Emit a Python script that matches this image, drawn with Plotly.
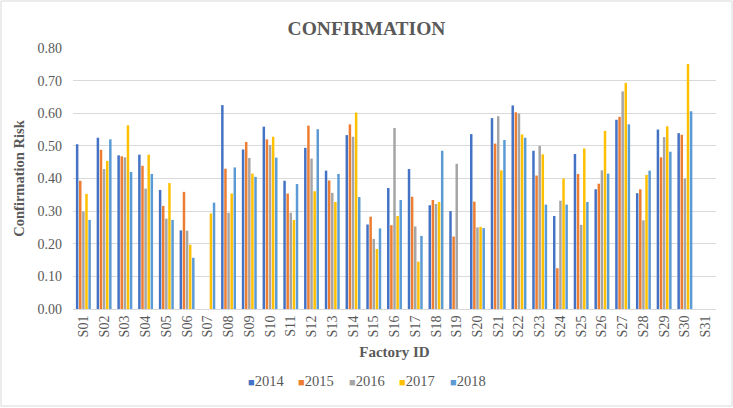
import plotly.graph_objects as go

factories = [f"S{i:02d}" for i in range(1, 32)]
years = ["2014", "2015", "2016", "2017", "2018"]
colors = ["#4472C4", "#ED7D31", "#A5A5A5", "#FFC000", "#5B9BD5"]

v2014 = [0.505, 0.525, 0.471, 0.473, 0.365, 0.241, None, 0.625, 0.489, 0.559,
         0.393, 0.494, 0.424, 0.533, 0.259, 0.371, 0.429, 0.318, 0.300, 0.536,
         0.585, 0.624, 0.485, 0.285, 0.475, 0.367, 0.580, 0.355, 0.550, 0.539, None]
v2015 = [0.393, 0.488, 0.468, 0.439, 0.316, 0.359, None, 0.430, 0.512, 0.520,
         0.354, 0.562, 0.394, 0.566, 0.283, 0.257, 0.344, 0.334, 0.222, 0.329,
         0.507, 0.603, 0.409, 0.125, 0.414, 0.384, 0.589, 0.367, 0.465, 0.534, None]
v2016 = [0.299, 0.429, 0.465, 0.369, 0.277, 0.240, None, 0.295, 0.463, 0.503,
         0.295, 0.461, 0.356, 0.528, 0.215, 0.555, 0.253, 0.322, 0.445, 0.250,
         0.591, 0.599, 0.500, 0.332, 0.258, 0.425, 0.667, 0.272, 0.527, 0.400, None]
v2017 = [0.353, 0.454, 0.563, 0.473, 0.386, 0.197, 0.293, 0.354, 0.415, 0.528,
         0.273, 0.361, 0.328, 0.602, 0.184, 0.285, 0.145, 0.328, None, 0.252,
         0.425, 0.535, 0.474, 0.400, 0.492, 0.546, 0.693, 0.411, 0.560, 0.751, None]
v2018 = [0.273, 0.520, 0.420, 0.414, 0.273, 0.157, 0.326, 0.434, 0.405, 0.464,
         0.383, 0.551, 0.414, 0.343, 0.247, 0.334, 0.224, 0.485, None, 0.248,
         0.518, 0.525, 0.320, 0.320, 0.328, 0.415, 0.566, 0.424, 0.482, 0.606, None]
series = [v2014, v2015, v2016, v2017, v2018]

font_fam = "Liberation Serif, Times New Roman, serif"
fig = go.Figure()
for y, vals, c in zip(years, series, colors):
    fig.add_trace(go.Bar(name=y, x=factories, y=vals, marker_color=c,
                         marker_line_width=0, showlegend=False))

W, H = 733, 408
ml, mr, mt, mb = 73, 17, 48, 99
pw, ph = W - ml - mr, H - mt - mb

# compact legend (Excel style): small coloured square + year label
legend_x0, legend_pitch, legend_y = 246, 50.4, 381
annotations = []
for i, (y, c) in enumerate(zip(years, colors)):
    annotations.append(dict(
        xref="paper", yref="paper",
        x=(legend_x0 + i * legend_pitch - ml) / pw, xanchor="left",
        y=(H - mb - legend_y) / ph, yanchor="middle",
        showarrow=False,
        text=f"<span style='color:{c};font-size:11px'>■</span>{y}",
        font=dict(size=14.5, color="#595959", family=font_fam)))

fig.update_layout(
    width=W, height=H,
    margin=dict(l=ml, r=mr, t=mt, b=mb),
    paper_bgcolor="white", plot_bgcolor="white",
    barmode="group", bargap=0.25, bargroupgap=0.2,
    font=dict(family=font_fam, color="#595959", size=14),
    title=dict(text="<b>CONFIRMATION</b>", x=0.5, xanchor="center",
               y=1 - 28 / H, yanchor="middle",
               font=dict(size=19.5, color="#595959", family=font_fam)),
    showlegend=False,
    annotations=annotations,
    xaxis=dict(tickangle=-90, showgrid=False, showline=True,
               linecolor="#D9D9D9", linewidth=1, ticks="", automargin=False,
               tickfont=dict(size=14, color="#595959"),
               title=dict(text="<b>Factory ID</b>", standoff=10,
                          font=dict(size=15, color="#595959"))),
    yaxis=dict(range=[0, 0.8], dtick=0.1, tickformat=".2f",
               showgrid=True, gridcolor="#D9D9D9", gridwidth=1,
               zeroline=False, ticks="", automargin=False,
               ticklabelstandoff=10,
               tickfont=dict(size=14, color="#595959"),
               title=dict(text="<b>Confirmation Risk</b>", standoff=9,
                          font=dict(size=14.5, color="#595959"))),
    shapes=[dict(type="rect", xref="paper", yref="paper",
                 x0=(1 - ml) / pw, x1=(W - 1 - ml) / pw,
                 y0=-(mb - 2) / ph, y1=1 + (mt - 1) / ph,
                 line=dict(color="#D9D9D9", width=1))],
)

fig.write_html("out.html",
               config={"displayModeBar": False},
               post_script="document.body.style.margin='0px';")
